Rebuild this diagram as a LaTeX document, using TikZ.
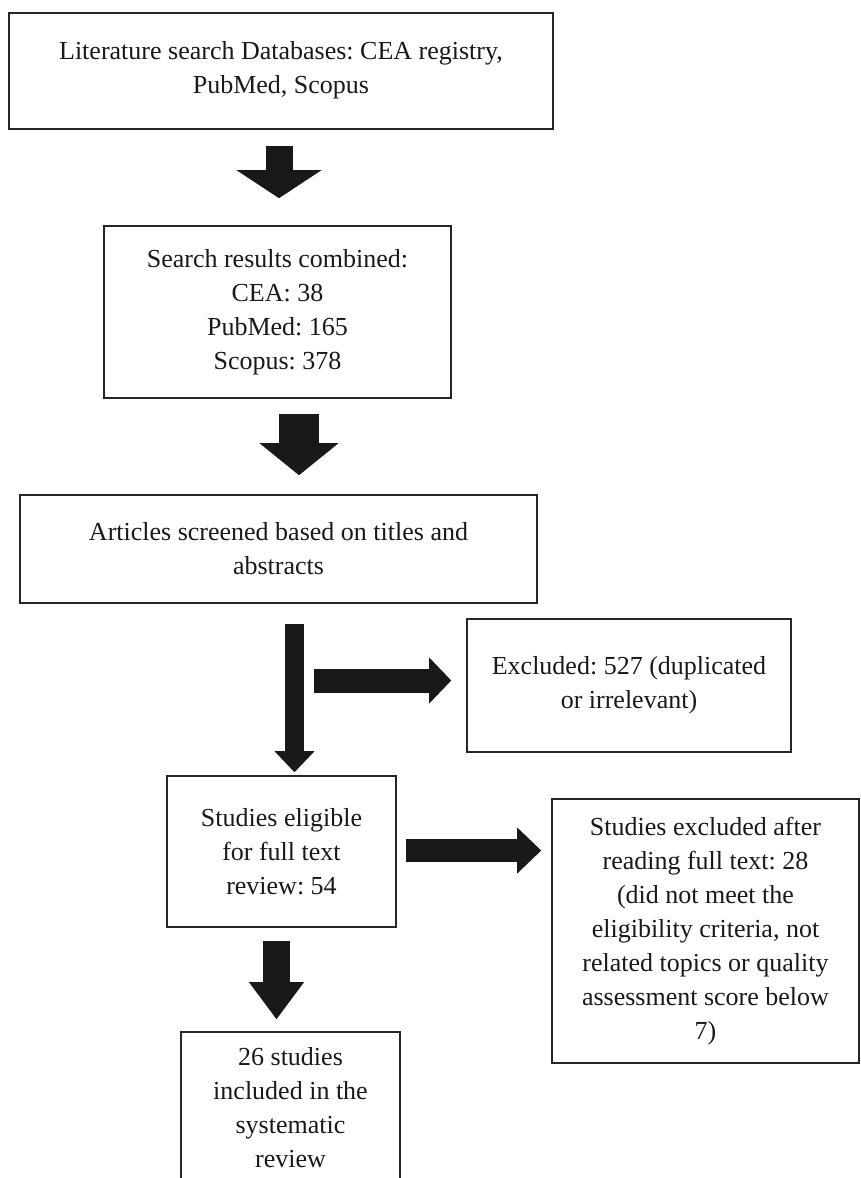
\documentclass[tikz,border=0pt]{standalone}
\usepackage{fontspec}
\setmainfont{Liberation Serif}
\usetikzlibrary{arrows.meta,calc}
\frenchspacing
\begin{document}
\begin{tikzpicture}[x=1pt,y=-1pt,
  box/.style={draw=black!85,line width=1.6pt,align=center,inner sep=0pt,
    font=\fontsize{26}{34}\selectfont\frenchspacing,text=black!90},
  blk/.style args={#1/#2/#3}{draw=black!90,line width=#1pt,
    -{Triangle[length=#3pt,width=#2pt,line width=0pt,fill=black!90]}}]
\clip (0,0) rectangle (860,1178);
\fill[white] (0,0) rectangle (860,1178);
\node[box,minimum width=544pt,minimum height=116pt] (b1) at (281,70.7)
  {Literature search Databases: CEA registry,\\PubMed, Scopus};
\node[box,minimum width=347pt,minimum height=172pt] (b2) at (277.5,312)
  {Search results combined:\\CEA: 38\\PubMed: 165\\Scopus: 378};
\node[box,minimum width=517pt,minimum height=108pt] (b3) at (278.5,549)
  {Articles screened based on titles and\\abstracts};
\node[box,minimum width=324pt,minimum height=133pt] (excl) at (629,685.5)
  {Excluded: 527 (duplicated\\or irrelevant)};
\node[box,minimum width=229pt,minimum height=151pt] (elig) at (281.5,851.5)
  {Studies eligible\\for full text\\review: 54};
\node[box,minimum width=307pt,minimum height=264pt] (rex) at (705.5,931)
  {Studies excluded after\\reading full text: 28\\(did not meet the\\eligibility criteria, not\\related topics or quality\\assessment score below\\7)};
\node[box,minimum width=219pt,minimum height=152pt] (fin) at (290.5,1108)
  {26 studies\\included in the\\systematic\\review};
% block arrows
\draw[blk=27/85/28] ($(b1.south)+(-2,16.3)$) -- ($(b2.north)+(1.5,-27)$);
\draw[blk=40/79/32] ($(b2.south)+(21.5,15)$) -- ($(b3.north)+(20.5,-19)$);
\draw[blk=19/40/21] ($(b3.south)+(16,20)$) -- ($(elig.north)+(13,-3)$);
\coordinate (split) at ($(excl.west)+(-152,-5)$);
\draw[blk=24/46/22] (split) -- ($(excl.west)+(-15,-5)$);
\draw[blk=23/46/24] ($(elig.east)+(9,-1)$) -- ($(rex.west)+(-10,-80.5)$);
\draw[blk=27/55/37] ($(elig.south)+(-5,13)$) -- ($(fin.north)+(-14,-12)$);
\end{tikzpicture}
\end{document}
